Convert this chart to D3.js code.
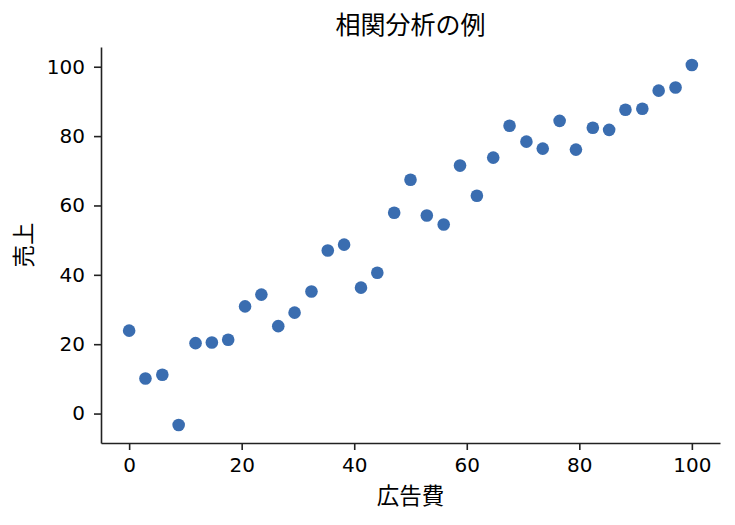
<!DOCTYPE html>
<html>
<head>
<meta charset="utf-8">
<script src="https://cdn.jsdelivr.net/npm/d3@7"></script>
<style>
  body { margin: 0; background: #fff; }
  svg text { fill: #000; }
  .tick text { font-family: "DejaVu Sans", sans-serif; font-size: 20px; }
  .cjk { font-family: "Noto Sans CJK JP", sans-serif; }
</style>
</head>
<body>
<div id="chart"></div>
<script>
// 広告費 (x) and 売上 (y)
const adCost = [0, 2.9, 5.9, 8.8, 11.8, 14.7, 17.6, 20.6, 23.5, 26.5,
  29.4, 32.4, 35.3, 38.2, 41.2, 44.1, 47.1, 50.0, 52.9, 55.9,
  58.8, 61.8, 64.7, 67.6, 70.6, 73.5, 76.5, 79.4, 82.4, 85.3,
  88.2, 91.2, 94.1, 97.1, 100];
const sales = [23.9, 10.1, 11.2, -3.3, 20.3, 20.5, 21.3, 30.9, 34.3, 25.2,
  29.1, 35.2, 47.0, 48.7, 36.3, 40.6, 57.9, 67.4, 57.1, 54.5,
  71.5, 62.8, 73.8, 83.0, 78.4, 76.4, 84.4, 76.1, 82.4, 81.8,
  87.6, 87.9, 93.1, 94.0, 100.5];
const xTicks = [0, 20, 40, 60, 80, 100];
const yTicks = [0, 20, 40, 60, 80, 100];

const width = 735, height = 525;
const margin = {top: 47, right: 15, bottom: 82, left: 101};

const svg = d3.select("#chart")
  .append("svg")
  .attr("width", width)
  .attr("height", height);

const data = adCost.map((x, i) => ({x, y: sales[i]}));

// matplotlib style 5% padding around the data
function padded(ext) {
  const p = (ext[1] - ext[0]) * 0.05;
  return [ext[0] - p, ext[1] + p];
}

const x = d3.scaleLinear()
  .domain(padded(d3.extent(adCost)))
  .range([margin.left, width - margin.right]);

const y = d3.scaleLinear()
  .domain(padded(d3.extent(sales)))
  .range([height - margin.bottom, margin.top]);

const xAxis = svg.append("g")
  .attr("transform", `translate(0,${height - margin.bottom})`)
  .call(d3.axisBottom(x).tickValues(xTicks).tickSize(7).tickPadding(8).tickSizeOuter(0));

const yAxis = svg.append("g")
  .attr("transform", `translate(${margin.left},0)`)
  .call(d3.axisLeft(y).tickValues(yTicks).tickSize(7).tickPadding(9).tickSizeOuter(0));

[xAxis, yAxis].forEach(a => {
  a.select(".domain").attr("stroke", "#222").attr("stroke-width", 1.6);
  a.selectAll(".tick line").attr("stroke", "#222").attr("stroke-width", 1.6);
});

svg.append("g")
  .selectAll("circle")
  .data(data)
  .join("circle")
    .attr("cx", d => x(d.x))
    .attr("cy", d => y(d.y))
    .attr("r", 6.3)
    .attr("fill", "#3a6db0");

svg.append("text")
  .attr("class", "cjk")
  .attr("x", (margin.left + width - margin.right) / 2)
  .attr("y", 34)
  .attr("text-anchor", "middle")
  .style("font-size", "25px")
  .text("相関分析の例");

svg.append("text")
  .attr("class", "cjk")
  .attr("x", (margin.left + width - margin.right) / 2)
  .attr("y", 504)
  .attr("text-anchor", "middle")
  .style("font-size", "22.5px")
  .text("広告費");

svg.append("text")
  .attr("class", "cjk")
  .attr("transform", `translate(32,${(margin.top + height - margin.bottom) / 2}) rotate(-90)`)
  .attr("text-anchor", "middle")
  .style("font-size", "22.5px")
  .text("売上");
</script>
</body>
</html>
